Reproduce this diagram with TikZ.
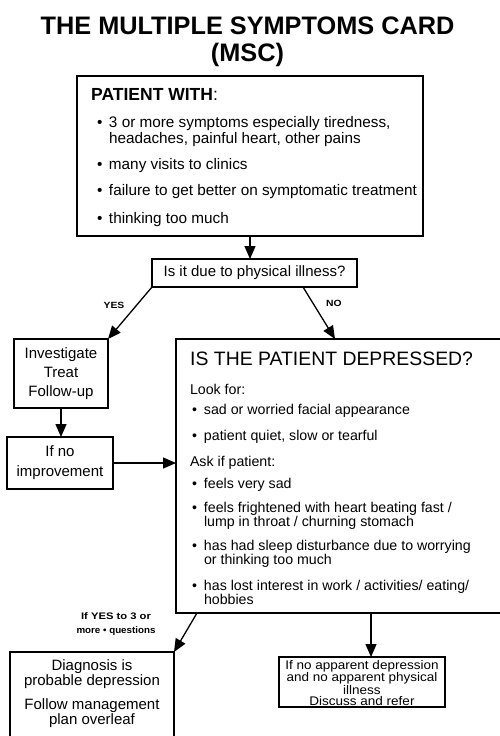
\documentclass[tikz,border=0pt]{standalone}
\usepackage{fontspec}
\setmainfont{Liberation Sans}
\usepackage{graphicx}
\usetikzlibrary{arrows.meta,calc}
\begin{document}
\begin{tikzpicture}[x=1pt,y=-1pt,
  box/.style={draw, line width=1.3pt, inner sep=0pt, outer sep=0pt},
  tx/.style={inner sep=0pt, outer sep=0pt, font=\fontsize{15}{12}\selectfont},
  td/.style={inner sep=0pt, outer sep=0pt, font=\fontsize{14.2}{12}\selectfont, anchor=west, align=left},
  tb/.style={inner sep=0pt, outer sep=0pt, font=\fontsize{15.3}{11.5}\selectfont, anchor=west, align=left},
  lbl/.style={inner sep=0pt, font=\fontsize{9}{13.5}\selectfont\bfseries, align=center},
  arr/.style={line width=1.3pt, -{Triangle[length=13pt,width=11pt]}}]
\useasboundingbox (0,0) rectangle (499,736);
\newcommand{\bul}{\makebox[12pt][l]{•}}
\newcommand{\ind}{\hspace*{12pt}}
% title
\node[inner sep=0pt, font=\fontsize{25.3}{27}\selectfont\bfseries, align=center] (title) at (247.5,42) {THE MULTIPLE SYMPTOMS CARD\\(MSC)};
% box 1
\node[box, minimum width=346pt, minimum height=160pt] (box1) at (250,156) {};
\node[inner sep=0pt, anchor=west, font=\fontsize{17.5}{20}\selectfont] (pw) at (91,94) {\textbf{PATIENT WITH}:};
\node[tb] (i1) at (97,131.5) {\bul 3 or more symptoms especially tiredness,\\\ind headaches, painful heart, other pains};
\node[tb] (i2) at (97,166) {\bul many visits to clinics};
\node[tb] (i3) at (97,192) {\bul failure to get better on symptomatic treatment};
\node[tb] (i4) at (97,220) {\bul thinking too much};
% decision
\node[box, tx, minimum width=205pt, minimum height=28pt] (dec) at (254.5,273) {Is it due to physical illness?};
% investigate
\node[box, tx, align=center, font=\fontsize{15}{19}\selectfont, minimum width=94pt, minimum height=69pt] (inv) at (61,373.5) {Investigate\\Treat\\Follow-up};
\node[box, tx, align=center, font=\fontsize{15}{20}\selectfont, minimum width=106pt, minimum height=52pt] (inf) at (60,463) {If no\\improvement};
% depressed box
\node[box, minimum width=334pt, minimum height=274pt] (dep) at (343,476) {};
\node[inner sep=0pt, anchor=west, font=\fontsize{19.4}{22}\selectfont] (dh) at (190,359) {IS THE PATIENT DEPRESSED?};
\node[td] (lf) at (190,389) {Look for:};
\node[td] (d1) at (192,411) {\bul sad or worried facial appearance};
\node[td] (d2) at (192,437) {\bul patient quiet, slow or tearful};
\node[td] (ak) at (190,463) {Ask if patient:};
\node[td] (d3) at (192,485) {\bul feels very sad};
\node[td] (d4) at (192,516) {\bul feels frightened with heart beating fast /\\\ind lump in throat / churning stomach};
\node[td] (d5) at (192,554) {\bul has had sleep disturbance due to worrying\\\ind or thinking too much};
\node[td] (d6) at (192,592.5) {\bul has lost interest in work / activities/ eating/\\\ind hobbies};
% diagnosis
\node[box, minimum width=164pt, minimum height=120pt] (diag) at (92,712) {};
\node[tx, align=center] (dg1) at (92,674) {Diagnosis is\\probable depression};
\node[tx, align=center] (dg2) at (92,713.5) {Follow management\\plan overleaf};
% final
\node[box, minimum width=166pt, minimum height=50pt] (fin) at (362,682) {};
\node[inner sep=0pt, align=center, font=\fontsize{12.5}{11.6}\selectfont, xscale=1.08, transform shape] (fint) at (362,683) {If no apparent depression\\and no apparent physical\\illness\\Discuss and refer};
% labels
\node[lbl] (yes) at (114,305) {\scalebox{1.15}[1]{YES}};
\node[lbl] (no) at (334,303) {\scalebox{1.15}[1]{NO}};
\node[lbl, font=\fontsize{9.5}{14}\selectfont\bfseries] (ify) at (116,624) {\scalebox{1.18}[1]{If YES to 3 or}\\\scalebox{1.03}[1]{more • questions}};
% connectors
\coordinate (noS) at ([xshift=-54pt]dec.south east);
\coordinate (noE) at ([xshift=159pt]dep.north west);
\coordinate (dgS) at ([xshift=21pt]dep.south west);
\coordinate (fa) at ([xshift=9pt]fin.north);
\draw[arr] (box1.south) -- (box1.south |- dec.north);
\draw[arr] (dec.south west) -- (inv.north east);
\draw[arr] (noS) -- (noE);
\draw[arr] (inv.south) -- (inv.south |- inf.north);
\draw[arr] (inf.east) -- (dep.west |- inf.east);
\draw[arr] (dgS) -- (diag.north east);
\draw[arr] (fa |- dep.south) -- (fa);
\end{tikzpicture}
\end{document}
